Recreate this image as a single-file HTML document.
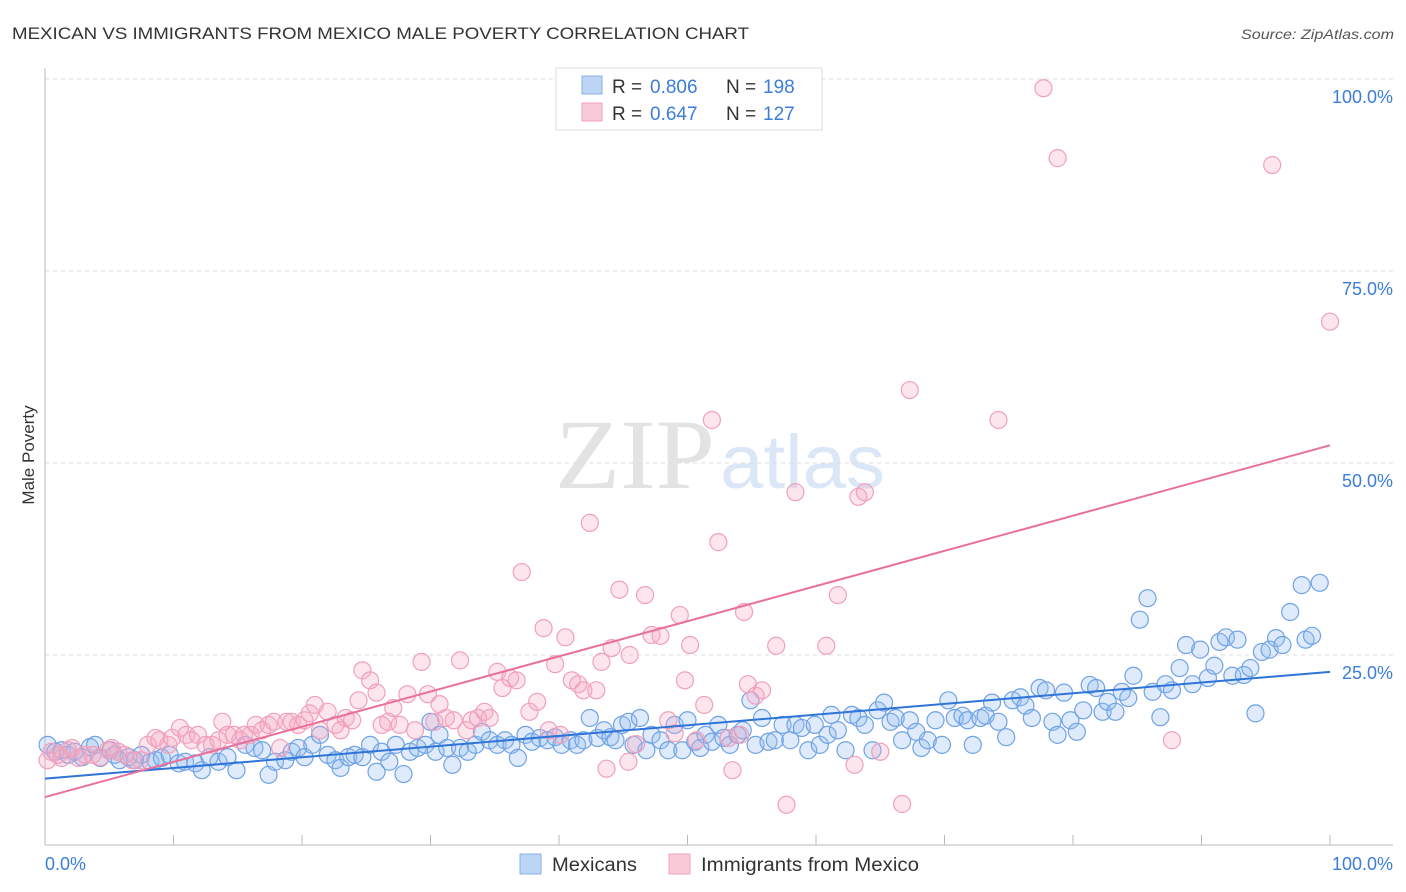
<!DOCTYPE html>
<html><head><meta charset="utf-8"><style>
body{margin:0;background:#fff;font-family:"Liberation Sans",sans-serif;}
svg{display:block}
</style></head><body>
<svg id="chart" width="1406" height="892">
<text x="12" y="39" font-size="17" fill="#333" textLength="737" lengthAdjust="spacingAndGlyphs">MEXICAN VS IMMIGRANTS FROM MEXICO MALE POVERTY CORRELATION CHART</text>
<text x="1241" y="39" font-size="14" fill="#555" font-style="italic" textLength="153" lengthAdjust="spacingAndGlyphs">Source: ZipAtlas.com</text>
<g opacity="0.5">
<text x="555" y="488" font-size="100" fill="#c8c8c8" font-family="Liberation Serif,serif" textLength="160" lengthAdjust="spacingAndGlyphs">ZIP</text>
<text x="720" y="488" font-size="76" fill="#b8cff0" textLength="165" lengthAdjust="spacingAndGlyphs">atlas</text>
</g>
<g id="grid"></g>
<g id="axes"></g>
<g id="pts"></g>
<g id="lines"></g>
<text x="34" y="455" font-size="17" fill="#333" text-anchor="middle" transform="rotate(-90 34 455)">Male Poverty</text>
<g>
<rect x="556" y="68" width="266" height="62" fill="#fff" stroke="#ddd"/>
<rect x="582" y="76" width="20" height="18" fill="#bcd5f5" stroke="#8ab0e8"/>
<text x="612" y="93" font-size="19" fill="#333">R =</text>
<text x="650" y="93" font-size="19" fill="#3b7dd8">0.806</text>
<text x="726" y="93" font-size="19" fill="#333">N =</text>
<text x="763" y="93" font-size="19" fill="#3b7dd8">198</text>
<rect x="582" y="103" width="20" height="18" fill="#f9cbd9" stroke="#f0a0bc"/>
<text x="612" y="120" font-size="19" fill="#333">R =</text>
<text x="650" y="120" font-size="19" fill="#3b7dd8">0.647</text>
<text x="726" y="120" font-size="19" fill="#333">N =</text>
<text x="763" y="120" font-size="19" fill="#3b7dd8">127</text>
</g>
<g>
<rect x="520" y="854" width="21" height="20" fill="#bcd5f5" stroke="#8ab0e8"/>
<text x="552" y="871" font-size="19" fill="#333" textLength="85" lengthAdjust="spacingAndGlyphs">Mexicans</text>
<rect x="669" y="854" width="21" height="20" fill="#f9cbd9" stroke="#f0a0bc"/>
<text x="701" y="871" font-size="19" fill="#333" textLength="218" lengthAdjust="spacingAndGlyphs">Immigrants from Mexico</text>
</g>
</svg>
<script>
const yTicks=[25,50,75,100];
const yTickLabels=["25.0%","50.0%","75.0%","100.0%"];
const blueX=[0.2,0.8,1.3,1.8,2.3,2.9,3.5,3.9,4.3,5.1,5.4,5.8,6.5,7.0,7.5,8.2,8.6,9.1,9.7,10.4,10.9,11.7,12.2,12.8,13.5,14.2,14.9,15.6,16.3,16.9,17.4,17.9,18.7,19.2,19.7,20.2,20.8,21.4,22.0,22.6,23.0,23.6,24.1,24.7,25.3,25.8,26.2,26.8,27.3,27.9,28.4,29.0,29.6,30.0,30.4,30.7,31.3,31.7,32.3,32.9,33.5,34.0,34.6,35.2,35.8,36.3,36.8,37.4,37.9,38.5,39.1,39.7,40.2,40.9,41.4,41.9,42.4,43.0,43.5,44.0,44.4,44.9,45.4,45.8,46.3,46.8,47.2,47.9,48.5,49.0,49.6,50.0,50.6,51.0,51.4,51.9,52.4,52.8,53.3,53.9,54.3,54.9,55.3,55.8,56.3,56.8,57.4,58.0,58.4,58.9,59.4,59.9,60.3,60.9,61.2,61.7,62.3,62.8,63.3,63.8,64.4,64.8,65.3,65.8,66.2,66.7,67.3,67.8,68.2,68.7,69.3,69.8,70.3,70.8,71.4,71.8,72.2,72.8,73.2,73.7,74.2,74.8,75.3,75.9,76.3,76.8,77.4,77.9,78.4,78.8,79.3,79.8,80.3,80.8,81.3,81.8,82.3,82.7,83.3,83.8,84.3,84.7,85.2,85.8,86.2,86.8,87.2,87.7,88.3,88.8,89.3,89.9,90.5,91.0,91.4,91.9,92.4,92.8,93.3,93.8,94.2,94.7,95.3,95.8,96.3,96.9,97.8,98.1,98.6,99.2];
const blueY=[13.3,12.4,12.6,12.0,12.4,11.7,13.0,13.3,11.6,12.6,12.0,11.3,11.7,11.3,12.0,11.1,11.3,11.6,12.0,10.9,11.1,10.9,10.0,11.7,11.1,11.7,10.0,13.3,12.9,12.6,9.4,11.1,11.3,12.4,12.9,11.7,13.3,14.6,12.0,11.3,10.3,11.7,12.0,11.7,13.3,9.8,12.4,11.1,13.3,9.5,12.4,12.9,13.3,16.3,12.4,14.6,12.9,10.7,12.9,12.4,13.3,15.0,13.9,13.3,13.9,13.3,11.6,14.6,13.7,14.2,13.9,14.3,13.3,13.9,13.3,13.9,16.8,14.2,15.2,14.3,13.9,15.9,16.3,13.3,16.8,12.6,14.6,13.9,12.6,15.9,12.6,16.5,13.7,12.9,14.6,13.7,15.9,14.2,13.3,14.6,15.2,19.1,13.3,16.8,13.7,13.9,15.9,13.9,15.9,15.5,12.6,15.9,13.3,14.6,17.2,15.2,12.6,17.2,16.8,15.9,12.6,17.8,18.8,16.3,16.8,13.9,16.5,15.0,12.9,13.9,16.5,13.3,19.1,16.8,17.1,16.5,13.3,16.8,17.1,18.8,16.3,14.3,19.1,19.5,18.4,16.8,20.7,20.4,16.3,14.6,20.1,16.5,15.0,17.8,21.1,20.7,17.6,18.9,17.6,20.2,19.4,22.3,29.6,32.4,20.2,16.9,21.2,20.4,23.3,26.3,21.2,25.7,22.0,23.6,26.7,27.3,22.3,27.0,22.4,23.3,17.4,25.4,25.7,27.2,26.3,30.6,34.1,27.0,27.5,34.4];
const pinkX=[0.2,0.5,1.0,1.3,1.8,2.1,2.6,3.1,3.7,4.3,4.9,5.2,5.7,6.2,6.8,7.4,8.0,8.6,8.9,9.6,9.9,10.5,11.0,11.4,11.9,12.5,13.0,13.5,13.8,14.2,14.7,15.2,15.5,16.0,16.4,16.9,17.4,17.8,18.3,18.8,19.2,19.7,20.2,20.6,21.0,21.4,22.0,22.6,23.0,23.4,23.9,24.4,24.7,25.3,25.8,26.2,26.7,27.1,27.6,28.2,28.8,29.3,29.8,30.3,30.7,31.2,31.8,32.3,32.8,33.2,33.7,34.2,34.6,35.2,35.6,36.2,36.7,37.1,37.7,38.3,38.8,39.2,39.7,40.1,40.5,41.0,41.5,41.9,42.4,42.9,43.3,43.7,44.1,44.7,45.4,45.5,46.0,46.7,47.2,47.9,48.5,49.0,49.4,49.8,50.2,50.7,51.3,51.9,52.4,53.2,53.5,54.1,54.4,54.7,55.3,55.8,56.9,57.7,58.4,60.8,61.7,63.0,63.3,63.8,65.0,66.7,67.3,74.2,77.7,78.8,87.7,95.5,100];
const pinkY=[11.3,12.4,12.0,11.6,12.6,12.9,11.6,12.0,12.0,11.7,12.6,12.9,12.4,12.0,11.3,11.3,13.3,14.2,13.9,13.3,14.2,15.5,14.6,13.9,14.6,13.3,13.3,13.9,16.3,14.6,14.6,13.9,14.6,14.6,15.9,15.2,15.9,16.3,12.9,16.3,16.3,15.9,16.5,17.4,18.5,15.2,17.6,15.9,15.2,16.8,16.5,19.1,23.0,21.7,20.1,15.9,16.3,18.1,15.9,19.9,15.2,24.1,19.9,16.3,18.6,16.8,16.5,24.3,15.2,16.5,16.8,17.6,16.8,22.8,20.7,22.0,21.7,35.8,17.6,18.9,28.5,15.2,23.8,14.6,27.3,21.7,21.2,20.4,42.2,20.4,24.1,10.2,25.9,33.5,11.1,25.0,13.4,32.8,27.6,27.5,16.5,14.8,30.2,21.7,26.3,13.9,18.5,55.6,39.7,14.2,10.0,14.6,30.6,21.2,19.7,20.4,26.2,5.5,46.2,26.2,32.8,10.7,45.6,46.2,12.4,5.6,59.5,55.6,98.8,89.7,13.9,88.8,68.4];
const blueLine=[8.9,22.8];
const pinkLine=[6.5,52.3];

const NS="http://www.w3.org/2000/svg";
const X0=45,X1=1330,Y0=847,Y100=79;
const sx=v=>X0+(X1-X0)*v/100;
const sy=v=>Y0-(Y0-Y100)*v/100;
function mk(tag,attrs,parent){const e=document.createElementNS(NS,tag);for(const k in attrs)e.setAttribute(k,attrs[k]);parent.appendChild(e);return e;}
const grid=document.getElementById('grid'),axes=document.getElementById('axes'),pts=document.getElementById('pts'),lines=document.getElementById('lines');
yTicks.forEach((t,i)=>{
  const l=mk('line',{x1:45,x2:1393,y1:sy(t),y2:sy(t),stroke:'#ddd','stroke-dasharray':'4 4'},grid);
  
  
  const tx=mk('text',{x:1393,y:sy(t)+24,'font-size':18,fill:'#3b7dd8','text-anchor':'end'},grid);
  tx.textContent=yTickLabels[i];
  
  
});
let a=mk('line',{x1:45,x2:45,y1:68,y2:845,stroke:'#bbb'},axes);


a=mk('line',{x1:45,x2:1393,y1:845,y2:845,stroke:'#bbb'},axes);


for(let i=0;i<=10;i++){
  const t=mk('line',{x1:sx(i*10),x2:sx(i*10),y1:835,y2:845,stroke:'#bbb'},axes);
  
  
}
let xl=mk('text',{x:45,y:870,'font-size':18,fill:'#3b7dd8'},axes);xl.textContent='0.0%';


xl=mk('text',{x:1393,y:870,'font-size':18,fill:'#3b7dd8','text-anchor':'end'},axes);xl.textContent='100.0%';


blueX.forEach((x,i)=>{
  const c=mk('circle',{cx:sx(x),cy:sy(blueY[i]),r:8.5,fill:'rgba(150,190,240,0.3)',stroke:'#6fa2e6','stroke-width':1.2},pts);
  
  
});
pinkX.forEach((x,i)=>{
  const c=mk('circle',{cx:sx(x),cy:sy(pinkY[i]),r:8.5,fill:'rgba(245,170,195,0.3)',stroke:'#f0a0bc','stroke-width':1.2},pts);
  
  
});
let tl=mk('line',{x1:sx(0),y1:sy(blueLine[0]),x2:sx(100),y2:sy(blueLine[1]),stroke:'#2f74d8','stroke-width':2},lines);


tl=mk('line',{x1:sx(0),y1:sy(pinkLine[0]),x2:sx(100),y2:sy(pinkLine[1]),stroke:'#e8709a','stroke-width':2},lines);


</script>
</body></html>
